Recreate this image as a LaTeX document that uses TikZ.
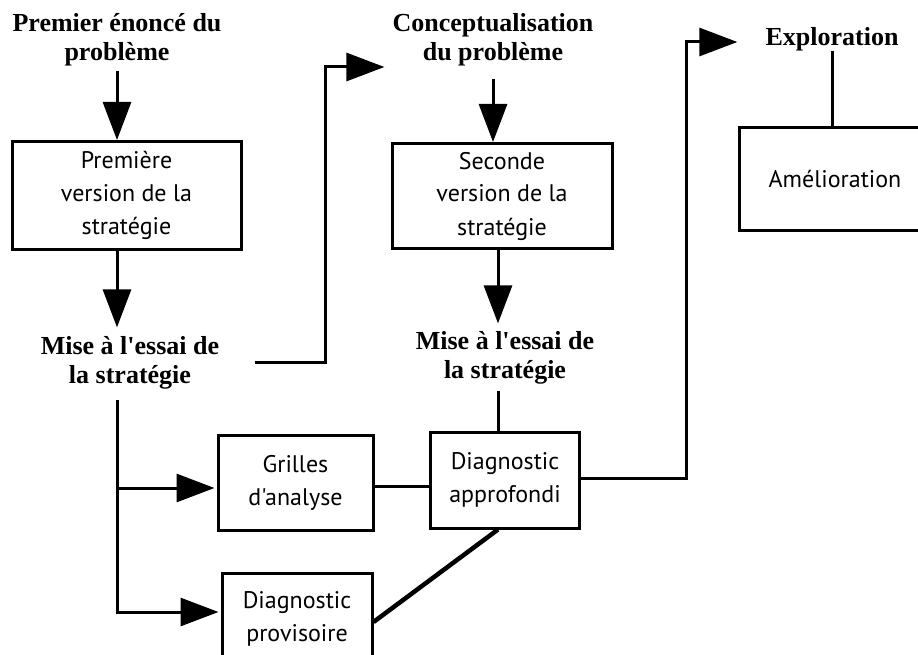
\documentclass[tikz,border=0pt]{standalone}
\usepackage{fontspec}
\setmainfont{Liberation Serif}[Ligatures=TeXOff]
\newfontfamily\boxfamily{PT Sans}
\usetikzlibrary{arrows.meta,calc}
\begin{document}
\begin{tikzpicture}[x=1pt,y=-1pt,
  heading/.style={font=\bfseries\fontsize{26}{29}\selectfont, align=center, inner sep=0pt},
  stepbox/.style={draw, line width=3pt, font=\boxfamily\fontsize{24}{33}\selectfont,
    align=center, inner sep=0pt},
  link/.style={line width=3pt},
  arr/.style={link, -{Triangle[length=38pt,width=28pt]}},
]
\clip (0,0) rectangle (918,655);
\fill[white] (0,0) rectangle (918,655);

% headings
\node[heading] (t1) at (117,40) {Premier énoncé du\\problème};
\node[heading] (c1) at (493,40) {Conceptualisation\\du problème};
\node[heading] (e)  at (832,39) {Exploration};
\node[heading] (m1) at (130,363) {Mise à l'essai de\\la stratégie};
\node[heading] (m2) at (505,358) {Mise à l'essai de\\la stratégie};

% boxes
\node[stepbox, minimum width=229pt, minimum height=108pt] (b1) at (126.5,195.5)
  {Première\\version de la\\stratégie};
\node[stepbox, minimum width=220pt, minimum height=105pt] (b2) at (502,196)
  {Seconde\\version de la\\stratégie};
\node[stepbox, minimum width=192pt, minimum height=102pt] (am) at (835,179)
  {Amélioration};
\node[stepbox, minimum width=155pt, minimum height=95pt] (g) at (295.5,483)
  {Grilles\\d'analyse};
\node[stepbox, minimum width=149pt, minimum height=96pt] (d2) at (505,480)
  {Diagnostic\\approfondi};
\node[stepbox, minimum width=150pt, minimum height=92pt] (p) at (297,619)
  {Diagnostic\\provisoire};

% first column
\draw[arr, shorten <=5pt] (t1.south) -- (t1.south |- b1.north);
\draw[arr] (b1.south -| t1.south) -- ($(m1.north)+(-13,-9)$);
\draw[arr] ($(m1.east)+(36,-1)$) -- ++(70,0) |- ($(c1.west)+(-8,27)$);
\draw[arr] ($(m1.south -| t1.south)+(0,10)$) |- ($(p.west)+(-2,-7)$);
\draw[arr] ($(g.west -| t1.south)+(0,5)$) -- ($(g.west)+(-2,5)$);

% second column
\draw[arr, shorten <=13pt] (c1.south) -- (c1.south |- b2.north);
\draw[arr] ($(b2.south)+(-4,0)$) -- ($(m2.north)+(-7,-8)$);
\draw[link] ($(m2.south)+(-7,6)$) -- ($(d2.north)+(-7,0)$);
\draw[link] ($(g.east)+(0,3)$) -- ($(d2.west)+(0,6)$);
\draw[line width=4.5pt] ($(p.east)+(0,3)$) -- ($(d2.south)+(-7,0)$);
\draw[arr] ($(d2.east)+(0,-2)$) -- ++(105,0) |- ($(e.west)+(-28,3)$);

% third column
\draw[link] (e.south) -- (e.south |- am.north);
\end{tikzpicture}
\end{document}
